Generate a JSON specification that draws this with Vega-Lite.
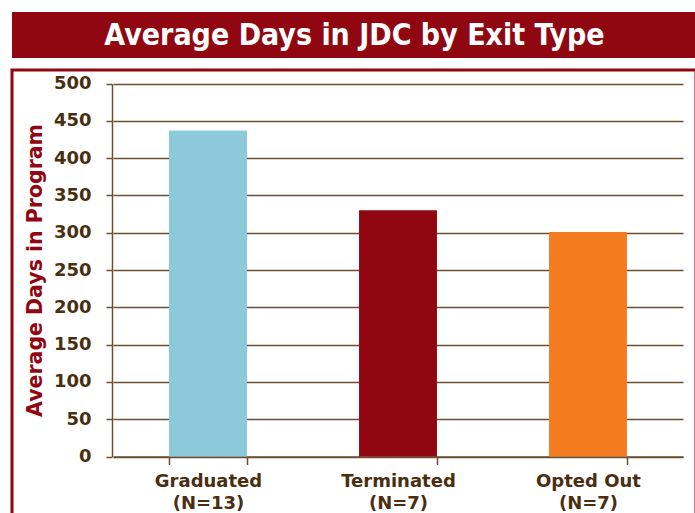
{
  "$schema": "https://vega.github.io/schema/vega-lite/v6.json",
  "padding": {"left": 10, "top": 12, "right": 0, "bottom": 0},
  "background": "white",
  "spacing": 10,
  "config": {"font": "DejaVu Sans"},
  "vconcat": [
    {
      "width": 685,
      "height": 46,
      "view": {"fill": "#900712", "stroke": null},
      "data": {"values": [{"title": "Average Days in JDC by Exit Type"}]},
      "mark": {"type": "text", "color": "white", "font": "DejaVu Sans Condensed", "fontWeight": "bold", "fontSize": 30, "baseline": "middle", "align": "center", "dy": 1},
      "encoding": {"text": {"field": "title"}}
    },
    {
      "width": 684,
      "height": 470,
      "view": {"stroke": "#900712", "strokeWidth": 3, "fill": "white"},
      "data": {"values": [
        {"type": "Graduated|(N=13)", "days": 437, "color": "Graduated"},
        {"type": "Terminated|(N=7)", "days": 330, "color": "Terminated"},
        {"type": "Opted Out|(N=7)", "days": 301, "color": "Opted Out"}
      ]},
      "mark": {"type": "bar"},
      "encoding": {
        "x": {
          "field": "type", "type": "nominal", "sort": null,
          "scale": {"range": [101, 671], "paddingInner": 0.59, "paddingOuter": 0.295},
          "axis": {
            "title": null, "labelAngle": 0, "offset": -83.5,
            "labelExpr": "split(datum.label, '|')",
            "labelFont": "DejaVu Sans", "labelFontWeight": "bold", "labelFontSize": 18,
            "labelColor": "#4a2e10", "labelPadding": 8, "labelLineHeight": 22,
            "tickBand": "extent", "tickSize": 8, "tickColor": "#6b4f33", "tickWidth": 1.5,
            "domainColor": "#6b4f33", "domainWidth": 1.5, "grid": false
          }
        },
        "y": {
          "field": "days", "type": "quantitative",
          "scale": {"domain": [0, 500], "range": [386.5, 13.5], "nice": false},
          "axis": {
            "title": "Average Days in Program", "offset": -100,
            "values": [0, 50, 100, 150, 200, 250, 300, 350, 400, 450, 500],
            "titleFont": "DejaVu Sans", "titleFontWeight": "bold", "titleFontSize": 20.5,
            "titleColor": "#900712", "titlePadding": 8,
            "labelFont": "DejaVu Sans", "labelFontWeight": "bold", "labelFontSize": 18,
            "labelColor": "#4a2e10", "labelPadding": 15,
            "tickSize": 6, "tickColor": "#6b4f33", "tickWidth": 1.5,
            "domainColor": "#6b4f33", "domainWidth": 1.5,
            "grid": true, "gridColor": "#6b4f33", "gridWidth": 1.5, "gridOpacity": 1
          }
        },
        "color": {
          "field": "color", "type": "nominal", "legend": null,
          "scale": {"domain": ["Graduated", "Terminated", "Opted Out"], "range": ["#8ccadb", "#900611", "#f47b1f"]}
        }
      }
    }
  ]
}
